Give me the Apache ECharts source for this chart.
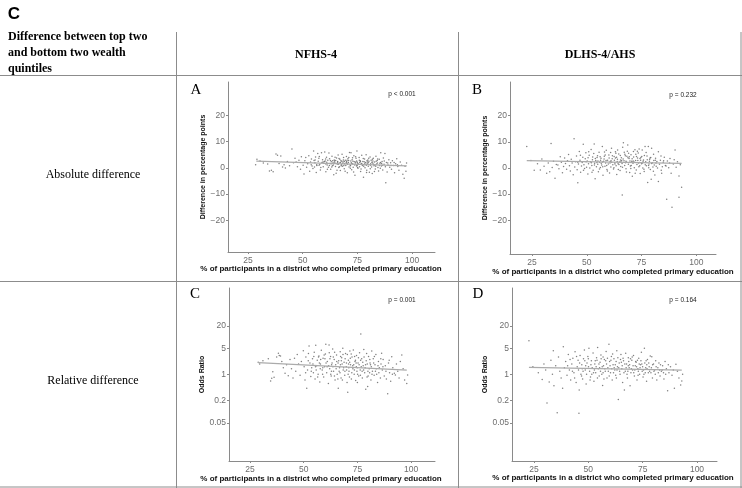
<!DOCTYPE html>
<html><head><meta charset="utf-8">
<script src="https://cdn.jsdelivr.net/npm/echarts@6/dist/echarts.min.js"></script>
<style>html,body{margin:0;padding:0;background:#fff}#c{width:742px;height:488px}</style>
</head><body><div id="c"></div>
<script>
// ---------- DATA ----------
const xTicks = [25, 50, 75, 100];
const absTicks = [-20, -10, 0, 10, 20];
const orTicks = [0.05, 0.2, 1, 5, 20];
const columnTitles = ["NFHS-4", "DLHS-4/AHS"];
const rowTitles = ["Absolute difference", "Relative difference"];
const panelLetters = ["A", "B", "C", "D"];
const pValues = ["p < 0.001", "p = 0.232", "p = 0.001", "p = 0.164"];

// Panel A: NFHS-4, absolute difference (percentage points)
const aPoints = [[28.5,1.2],[29.1,3.2],[30.5,2.6],[32,1.8],[34,1.4],[34.8,-1.2],[35.7,-0.9],[36.5,-1.5],[37.8,5.2],[38.5,4.8],[39.2,1.6],[40,4.5],[40.8,0.3],[41.5,1.2],[42.1,-0.1],[43,2.4],[44,0.8],[45.1,7.1],[45.8,1.9],[46.5,3.6],[47,2.2],[47.6,0.4],[48.3,2.9],[49,-0.6],[49.4,4.2],[50.2,1.0],[50.6,-2.4],[51,2.7],[51.4,3.9],[51.8,0.2],
[52.3,1.5],[52.8,4.6],[53.2,-1.3],[53.6,2.2],[54,3.3],[54.3,0.7],[54.7,-0.3],[55,6.4],[55.2,2.8],[55.6,1.9],[55.9,4.1],[56.2,-1.8],[56.5,0.9],[56.9,5.4],[57.1,2.5],[57.4,3.6],[57.8,1.3],[58.1,-0.8],[58.6,5.7],[58.8,2.0],[59.1,3.1],[59.4,0.4],[59.7,1.7],[60.1,6.0],[60.3,2.6],[60.6,-1.5],[60.9,4.0],[61.2,1.1],[61.5,2.9],[61.8,0.2],[62,5.6],[62.3,3.4],[62.5,1.6],[62.8,-0.6],[63.1,2.3],[63.4,4.4],[63.6,0.8],[63.9,1.9],[64.2,-2.6],[64.4,3.0],[64.7,2.1],[65,0.5],[65.3,-2.1],[65.5,3.7],[65.8,1.4],
[66,2.4],[66.2,4.9],[66.5,0.1],[66.7,1.8],[67,3.2],[67.2,-1.0],[67.5,2.7],[67.7,1.2],[68,5.1],[68.2,0.6],[68.5,2.2],[68.7,3.9],[69,-0.4],[69.2,1.5],[69.5,2.9],[69.7,0.9],[70,4.3],[70.2,1.7],[70.4,-1.9],[70.7,3.4],[70.9,2.0],[71.2,0.3],[71.4,5.8],[71.7,1.1],[72,2.6],[72.1,5.7],[72.4,-0.7],[72.6,3.1],[72.9,1.4],[73.1,0.2],[73.4,4.6],[73.6,2.3],[73.9,-2.8],[74.1,1.8],[74.4,3.6],[74.6,0.7],[74.8,6.4],[75,2.1],[75.3,-0.2],[75.5,1.3],[75.8,3.9],[76,0.4],[76.3,2.7],[76.5,-1.4],[76.8,1.6],[77,4.8],[77.3,0.9],[77.5,2.4],[77.8,-3.6],[78,1.2],[78.3,3.3],[78.5,0.0],[78.8,2.0],[79,5.0],[79.3,-0.9],[79.5,1.5],[79.8,3.0],[80,0.6],[80.3,2.5],[80.5,-1.7],[80.8,4.1],[81,1.0],[81.3,2.9],[81.5,0.3],[81.8,-2.2],[82,1.8],
[82.3,3.6],[82.6,0.8],[82.9,2.2],[83.2,-0.5],[83.5,4.4],[83.8,1.4],[84.1,2.8],[84.4,0.1],[84.7,-1.2],[85,3.2],[85.3,1.7],[85.7,5.7],[86,0.7],[86.3,2.4],[86.6,-0.8],[86.9,3.7],[87.2,1.3],[87.6,5.4],[87.8,0.4],[88,-5.7],[88.3,2.0],[88.6,-1.6],[89,1.1],[89.4,3.1],[89.8,0.2],[90.2,1.9],[90.6,-0.6],[91,2.7],[91.5,0.9],[92,-1.9],[92.5,1.5],[93,3.4],[93.5,0.5],[94,-0.9],[94.6,2.2],[95.2,1.0],[95.8,-2.5],[96.4,-4.0],[96.8,0.6],[97.2,-1.3],[97.5,1.8],
[61,2.1],[63,1.5],[64.5,2.6],[66.3,1.3],[67.3,2.0],[68.3,1.7],[69.1,2.4],[70.5,1.3],[71,2.8],[72.2,1.9],[73,2.5],[73.8,1.1],[74.3,2.2],[75.2,1.6],[76.1,2.0],[77.1,1.4],[78.1,2.3],[79.1,1.0],[80.1,1.9],[81.1,1.5],[82.1,2.6],[83.1,1.1],[84.2,1.8],[85.1,0.9],[86.1,1.6],[62.2,0.9],[64,1.1],[65.1,2.8],[66.8,0.4],[68.8,0.9],[70.1,2.4],[71.9,0.8],[74.9,0.9],[77.9,0.6],[79.6,2.2],[81.6,2.1],[83.6,2.5],[85.6,2.0],[57.5,1.0],[59.9,2.4],[55.4,0.3],[53.9,1.2],
[55.7,3.0],[56.4,1.2],[57.6,4.3],[58.3,0.1],[59.3,2.2],[60.5,3.3],[61.3,-0.6],[62.7,2.8],[63.3,0.3],[64.8,4.0],[65.7,-0.9],[66.6,3.5],[67.6,0.8],[68.6,3.0],[69.4,-1.3],[70.3,2.9],[71.1,3.9],[71.8,-0.2],[72.8,3.8],[73.3,-1.6],[74.2,4.2],[75.1,0.1],[75.9,2.9],[76.7,-0.5],[77.7,3.5],[78.4,1.7],[79.2,-1.8],[80.2,3.6],[80.9,-0.4],[81.9,3.2],[82.8,-1.4],[83.4,0.6],[84.3,3.3],[85.5,-0.2],[86.4,1.0],[87.3,2.6],[88.9,1.8],[90.4,0.9],[91.8,2.0],[93.3,1.2],[60.6,1.4],[67.9,2.5],[72.5,1.6],[76.4,2.4],[79.4,2.7],[82.4,1.3],[69.9,1.9],[74.7,2.6],[65.9,2.1],[63.7,2.7]];
const aTrend = [[28.8,2.55],[97.6,0.76]];

// Panel B: DLHS-4/AHS, absolute difference
const bPoints = [[22.6,8.2],[24.5,2.9],[26,-0.9],[27.5,1.6],[28.8,-0.8],[29.5,3.4],[30.5,0.7],[31.7,-2.0],[32.4,1.9],[33.1,-1.4],[33.7,9.4],[34.2,0.2],[34.8,2.6],[35.5,-3.9],[36.1,1.3],[36.8,1.1],[37.3,-0.3],[37.9,4.3],[38.4,2.2],[38.9,-1.8],[39.4,0.6],[39.9,3.8],[40.3,1.7],[40.8,-0.5],[41.2,2.8],[41.7,5.2],[42.1,0.9],[42.5,-1.1],[42.9,3.3],[43.3,1.9],[43.8,-2.6],[44.2,11.2],[44.5,0.4],[44.9,2.4],[45.3,4.6],[45.6,-0.7],[45.9,-5.6],[46.2,1.5],[46.6,6.3],[46.9,3.0],[47.2,-1.6],[47.6,0.8],[47.9,2.1],[48.2,4.1],[48.4,9.1],[48.7,1.2],[49,-0.2],[49.3,3.5],[49.6,5.8],[49.9,0.3],[50.2,2.7],[50.5,-2.3],[50.8,1.6],[51.1,4.9],[51.4,0.0],[51.7,2.4],[52,7.1],[52.3,1.0],[52.6,3.2],[52.9,-0.9],[53.2,5.5],[53.4,9.2],[53.6,1.8],[53.8,-4.1],[54.1,2.9],[54.4,0.5],[54.7,4.0],[55,1.4],[55.3,-1.4],[55.6,6.0],[55.9,2.2],[56.2,0.2],[56.5,3.7],[56.8,1.1],[57.1,8.2],[57.4,-2.8],[57.7,2.6],[58,4.5],[58.3,0.7],[58.6,1.9],[58.9,6.8],[59.2,-0.6],[59.5,3.0],[59.8,1.5],[60.1,5.0],[60.4,-1.9],[60.7,2.5],[61,0.4],[61.3,7.6],[61.6,3.5],[61.9,1.2],[62.2,-0.4],[62.5,4.4],[62.8,2.0],[63.1,6.2],[63.4,0.9],[63.7,-2.5],[64,3.3],[64.3,1.6],[64.6,5.4],[64.9,2.3],[65.2,-1.0],[65.5,0.6],[65.8,3.9],[66.2,-10.3],[66.4,7.9],[66.7,9.7],[67,2.8],[67.3,1.0],[67.6,4.7],[67.9,-0.3],[68.2,2.2],[68.5,6.4],[68.7,8.8],[69,1.4],[69.3,3.6],[69.6,-1.7],[69.9,0.8],[70.2,5.1],[70.5,2.6],[70.8,-3.2],[71.1,1.8],[71.4,4.2],[71.7,0.1],[72,7.0],[72.3,2.9],[72.6,-0.8],[72.9,1.3],[73.2,3.8],[73.5,5.7],[73.8,0.5],[74.1,2.1],[74.4,-2.1],[74.7,4.0],[75,1.6],[75.3,6.9],[75.6,0.0],[75.9,3.1],[76.2,-1.3],[76.6,8.2],[76.9,2.4],[77.2,0.9],[77.5,4.6],[77.8,-5.5],[78.1,8.2],[78.4,1.5],[78.7,3.3],[79,-0.6],[79.4,-4.3],[79.6,7.6],[79.9,2.0],[80.2,0.4],[80.5,5.3],[80.8,1.1],[81.1,-2.7],[81.4,3.7],[81.7,0.7],[82,2.5],[82.7,6.2],[82.7,-5.2],[83.2,1.4],[83.6,3.0],[84,-0.9],[84.2,-2.0],[84.5,0.5],[84.9,2.2],[85.4,4.1],[85.9,1.0],[86.5,-12],[86.8,2.7],[87.4,0.1],[88,3.6],[88.5,-2.0],[88.9,-15],[89.5,1.5],[90.3,6.9],[90.8,0.3],[91.4,2.4],[92.1,-11.2],[92.1,-3.1],[92.7,1.2],[93.3,-7.4],
[50.6,3.9],[52.1,2.0],[53.9,3.6],[55.1,2.7],[56.6,1.8],[57.9,3.4],[58.8,2.9],[60.2,3.8],[61.4,2.2],[62.6,3.0],[63.6,4.1],[64.7,1.3],[65.6,2.4],[66.6,3.4],[67.7,2.0],[68.8,3.9],[69.7,2.7],[70.7,3.5],[71.6,2.3],[72.7,4.4],[73.6,1.9],[74.6,3.0],[75.7,2.6],[76.7,1.2],[77.6,3.2],[78.6,2.6],[79.6,1.7],[80.6,2.9],[81.6,1.9],[54.6,2.1],[59.1,1.0],[63.9,2.5],[66.1,1.7],[68.3,4.5],[70.3,1.0],[72.4,5.3],[74.3,3.6],[76.3,4.8],[78.3,0.1],[60.9,5.9],[58.4,5.0],[56.1,4.3],[64.1,6.9],[67.1,6.0],[69.1,5.6],[71.3,6.3],[73.9,7.3],[62.9,1.5],[65.3,4.8],[57.3,0.5],
[45.9,2.2],[47.1,4.9],[48.5,-0.9],[49.7,2.4],[50.9,6.2],[52.4,-1.6],[53.5,1.1],[54.9,4.7],[55.8,-0.4],[57.2,2.3],[58.1,6.1],[59.4,-1.1],[60.6,1.9],[61.7,4.7],[62.4,0.1],[63.3,5.6],[64.4,-0.6],[65.4,3.1],[66.3,0.3],[67.4,5.3],[68.1,-1.5],[69.4,4.3],[70.1,-0.2],[71.2,2.7],[72.1,-2.0],[73.1,6.4],[74.2,0.9],[75.1,4.4],[76.1,-0.5],[77.1,5.9],[78.2,1.0],[79.2,4.0],[80.4,-1.2],[81.3,3.0],[82.3,0.0],[83.9,4.6],[85.1,2.8],[86.2,0.8],[87.8,1.9],[89.9,3.2],[56.3,3.0],[61.1,2.8],[65.9,2.9],[70.9,2.2],[75.4,1.9],[78.9,3.8],[52.7,4.2],[67.9,2.6],[73.3,2.9],[63.1,3.8]];
const bTrend = [[22.6,2.8],[93.3,1.8]];

// Panel C: NFHS-4, relative difference (odds ratio)
const cPoints = [[28.8,2.1],[29.5,1.9],[31,2.3],[33.5,2.6],[34.6,0.66],[35.1,0.78],[35.6,1.17],[36.2,0.83],[37.4,2.9],[38.2,3.66],[38.6,3.2],[39.2,3.1],[39.8,2.2],[40.5,1.5],[41.3,1.06],[42,1.8],[42.8,0.92],[43.6,2.5],[44.3,1.4],[45,0.8],[45.7,2.7],[46.3,1.2],[47,3.4],[47.6,1.9],[48.3,0.95],[48.9,2.2],[49.8,4.3],[50.2,1.6],[50.6,0.7],[51,2.9],[51.4,0.42],[51.8,1.3],[52.2,3.6],[52.5,5.7],[52.9,2.0],[53.3,0.88],[53.7,1.5],[54.1,2.6],[54.5,1.1],[54.9,3.9],[55.3,0.75],[55.6,6.0],[56,1.7],[56.3,2.4],[56.7,1.0],[57.1,3.1],[57.5,0.62],[57.8,1.9],[58.2,4.4],[58.6,1.3],[59,2.7],[59.3,0.85],[59.7,1.6],[60.1,3.5],[60.3,6.4],[60.7,1.1],[61,2.2],[61.5,0.57],[61.8,6.1],[62.1,1.4],[62.5,3.0],[62.8,0.9],[63.2,2.0],[63.5,4.8],[63.9,1.2],[64.2,2.5],[64.6,0.7],[64.9,1.8],[65.3,3.3],[65.6,1.0],[66.1,0.42],[66.3,2.3],[66.7,1.5],[67,4.0],[67.4,0.8],[67.7,2.8],[68.2,5.0],[68.4,1.3],[68.8,2.1],[69.1,0.95],[69.5,3.6],[69.8,1.6],[70.2,0.6],[70.5,0.33],[70.8,2.4],[71.1,1.2],[71.5,4.2],[71.8,1.8],[72.2,0.75],[72.5,2.9],[72.9,1.4],[73.1,4.5],[73.5,1.0],[73.9,2.2],[74.2,0.68],[74.6,3.2],[74.9,1.5],[75.3,2.0],[75.6,0.9],[76,3.8],[76.3,1.3],[76.6,12],[77,2.6],[77.3,0.8],[77.7,1.7],[78,4.6],[78.4,1.1],[78.9,0.4],[79.1,2.3],[79.5,0.85],[79.8,0.47],[80.2,3.0],[80.5,1.4],[80.9,2.0],[81.3,0.7],[81.7,4.2],[82,1.2],[82.4,2.6],[82.8,0.95],[83.2,1.8],[83.6,3.4],[84,1.0],[84.4,0.6],[84.8,2.2],[85.2,1.5],[85.7,0.8],[86.3,3.66],[86.6,1.3],[87,2.5],[87.5,0.9],[88,1.7],[88.5,0.75],[89.1,0.3],[89.5,2.0],[90,1.1],[90.5,0.65],[91,2.96],[91.5,1.5],[92.2,1.06],[92.7,0.96],[93.2,1.9],[93.8,1.2],[94.4,0.8],[95,2.2],[95.7,3.3],[96.3,1.4],[97,0.7],[98,0.57],[98.4,0.96],
[55.8,1.3],[57.3,2.0],[58.9,1.5],[60.4,2.0],[61.6,1.7],[62.9,1.2],[63.8,2.9],[65.1,1.4],[66,2.0],[66.9,1.1],[67.9,1.9],[68.6,1.5],[69.3,2.6],[70,1.3],[70.9,1.9],[71.7,2.7],[72.4,1.1],[73.3,1.8],[74.1,2.4],[74.8,1.2],[75.5,2.8],[76.4,0.95],[77.5,2.1],[78.6,1.5],[79.6,1.9],[80.7,1.1],[81.5,1.6],[82.6,2.0],[83.8,1.4],[85,1.1],[86,1.9],[64.4,3.9],[67.2,3.0],[70.3,3.4],[73.7,3.0],[76.8,1.6],[79.3,3.6],[62.2,2.6],[59.5,3.3],[56.9,2.9],[54.3,1.9],[71.3,0.85],[68,0.7],[65.9,0.75],[75,0.6],[80,0.9],
[50.9,1.1],[52.1,2.3],[53.5,1.2],[54.7,3.0],[55.5,1.6],[56.5,0.85],[57.9,2.5],[58.8,1.0],[59.9,2.6],[60.9,1.6],[61.9,3.8],[62.6,1.0],[63.6,1.6],[64.3,0.9],[65.4,2.2],[66.5,1.2],[67.5,2.3],[68.3,3.4],[69.2,1.2],[69.9,2.0],[70.7,1.0],[71.4,2.1],[72.1,3.5],[72.8,1.7],[73.6,1.3],[74.4,2.0],[75.1,1.0],[75.8,1.8],[76.5,2.4],[77.2,1.2],[78.1,2.9],[78.8,1.8],[79.9,1.2],[80.8,2.5],[81.8,1.0],[82.9,3.0],[83.4,1.2],[84.6,1.7],[85.9,2.6],[86.9,1.6],[88.3,1.2],[89.8,2.4],[91.3,1.0],[57.7,1.4],[63,1.8],[67.1,1.8],[71,1.5],[74.5,1.6],[77.9,1.3],[81.1,1.8]];
const cTrend = [[28.8,2.05],[98,1.3]];

// Panel D: DLHS-4/AHS, relative difference (odds ratio)
const dPoints = [[22.7,7.9],[24.5,1.6],[27,1.1],[28.8,0.73],[29.6,1.9],[30.4,1.3],[31,0.17],[32,0.62],[32.8,2.4],[33.5,1.0],[33.9,4.3],[34.2,0.49],[35,1.7],[35.7,0.093],[36.3,2.9],[36.9,1.2],[37.5,0.8],[38.2,0.42],[38.5,5.5],[39,1.5],[39.6,2.2],[40.2,0.95],[40.8,3.4],[41.3,1.3],[41.9,0.7],[42.4,1.9],[42.9,2.7],[43.4,1.1],[43.9,4.0],[44.4,0.6],[44.9,1.6],[45.3,2.4],[45.7,0.09],[45.8,0.38],[46.2,3.2],[46.6,1.0],[47,1.8],[47.4,0.75],[47.8,2.6],[48.2,4.5],[48.6,1.3],[49,0.55],[49.4,2.0],[49.8,3.0],[50.3,5.0],[50.6,1.2],[51,0.85],[51.4,2.3],[51.8,1.5],[52.2,3.7],[52.6,0.65],[53,1.9],[53.4,1.1],[53.8,2.8],[54.3,5.2],[54.6,1.4],[55,0.9],[55.4,2.1],[55.8,3.3],[56.2,1.0],[56.6,0.5],[57,1.7],[57.4,2.5],[57.8,1.2],[58.2,4.1],[58.6,0.8],[59,1.5],[59.5,6.4],[59.8,2.2],[60.2,1.1],[60.6,3.0],[61,0.7],[61.4,1.8],[61.8,2.6],[62.2,1.3],[62.6,0.95],[63.1,4.3],[63.4,1.6],[63.8,0.21],[64.2,2.0],[64.6,1.0],[65,3.4],[65.4,1.4],[65.8,0.6],[66.2,2.3],[66.6,0.38],[67,1.2],[67.2,3.66],[67.6,1.9],[68,0.8],[68.4,2.8],[68.8,1.5],[69.2,0.49],[69.6,1.1],[70,2.4],[70.4,1.3],[70.8,3.2],[71.2,0.9],[71.6,1.7],[72,2.1],[72.4,0.7],[72.8,1.4],[73.2,2.7],[73.6,1.0],[74,1.8],[74.4,3.9],[74.8,1.2],[75.2,0.85],[75.8,5.0],[76,2.0],[76.4,1.5],[76.8,0.65],[77.2,2.5],[77.6,1.1],[78,1.6],[78.5,3.1],[79.2,2.96],[79.5,0.8],[80,1.9],[80.5,1.3],[81,2.3],[81.5,0.7],[82,1.5],[82.5,2.0],[83,0.9],[83.6,1.2],[84.2,1.7],[84.8,0.75],[85.3,2.2],[85.9,1.4],[86.5,0.36],[87.1,1.1],[87.8,1.6],[88.5,0.95],[89.1,1.3],[89.6,0.42],[90.3,1.85],[91,1.2],[91.7,0.8],[92.5,0.52],[93,0.66],[93.4,1.0],
[45.5,1.3],[47.2,1.4],[48.8,1.7],[50.1,1.6],[51.6,1.0],[52.8,1.3],[53.6,1.6],[54.9,1.9],[55.6,1.2],[56.4,1.6],[57.6,1.4],[58.4,1.9],[59.2,1.2],[60,1.7],[60.8,1.4],[61.6,1.1],[62.4,1.8],[63.2,1.3],[64,1.5],[64.8,2.5],[65.6,1.7],[66.4,1.1],[67.4,1.5],[68.2,1.2],[69,1.8],[69.8,1.4],[70.6,1.7],[71.4,1.3],[72.2,1.6],[73,1.2],[73.8,1.5],[74.6,1.9],[75.4,1.3],[76.2,1.1],[77,1.4],[78.2,1.2],[79,1.5],[80.8,1.0],[82.8,1.3],[84.6,1.1],[56.8,2.9],[61.2,3.5],[66,2.7],[70.2,2.9],[54,2.4],[58,2.3],[62.8,2.2],[68.6,2.2],[72.6,2.4],[76.6,2.3],
[40.5,1.7],[41.6,2.5],[42.7,1.2],[43.7,0.8],[44.6,3.0],[46,2.0],[46.9,0.9],[47.6,1.2],[48.4,2.3],[49.2,1.0],[50,2.6],[50.8,0.7],[51.2,1.8],[52.4,1.1],[53.2,2.3],[54.2,0.8],[55.2,1.5],[55.9,2.6],[56.8,1.1],[57.2,0.75],[58.8,2.7],[59.6,0.9],[60.4,2.4],[61.9,1.5],[62.9,0.8],[63.6,2.8],[64.4,1.2],[65.2,2.1],[66.8,1.9],[67.8,1.0],[68.4,1.7],[69.4,2.6],[70.9,1.1],[71.8,2.2],[72.9,0.95],[73.4,1.9],[74.2,2.3],[75,1.6],[75.6,1.0],[76.9,1.8],[77.8,2.0],[78.8,1.1],[79.6,1.8],[80.2,1.2],[81.2,1.6],[82.2,1.1],[83.2,1.8],[84,1.3],[85.6,1.0],[86.8,1.8]];
const dTrend = [[22.7,1.54],[93,1.3]];

// ---------- CHART ----------
const chart = echarts.init(document.getElementById('c'), null, {renderer: 'canvas'});
const AXC = '#8a8a8a', LBL = '#6e6e6e', FONT = 'Liberation Sans, Arial, sans-serif';
const SERIF = 'Liberation Serif, Times New Roman, serif';

const grids = [
  {left: 228, top: 82, width: 207, height: 170},
  {left: 510, top: 82, width: 206, height: 172},
  {left: 229, top: 288, width: 206, height: 173},
  {left: 512, top: 288, width: 205, height: 173}
];
const xr = [[15.86, 110.5], [14.95, 109], [15.2, 111.15], [14.9, 109.2]];
const yr = [[-32, 32.6], [-32.9, 32.9], [0.00474, 206], [0.00474, 206]];
const yNames = ["Difference in percentage points", "Difference in percentage points", "Odds Ratio", "Odds Ratio"];

const fmtNum = v => v < 0 ? '\u2212' + Math.abs(v) : String(v);

const xAxis = grids.map((g, i) => ({
  type: 'value', gridIndex: i, min: xr[i][0], max: xr[i][1],
  axisLine: {show: true, onZero: false, lineStyle: {color: AXC, width: 1}},
  axisTick: {show: true, length: 2, lineStyle: {color: AXC}, customValues: xTicks},
  axisLabel: {customValues: xTicks, color: LBL, fontSize: 8.5, fontFamily: FONT, margin: 4},
  splitLine: {show: false}
}));
const yAxis = grids.map((g, i) => {
  const isLog = i >= 2;
  const ticks = isLog ? orTicks : absTicks;
  return {
    type: isLog ? 'log' : 'value', logBase: 10, gridIndex: i, min: yr[i][0], max: yr[i][1],
    name: yNames[i], nameLocation: 'middle', nameGap: 21,
    nameTextStyle: {fontSize: 7, fontWeight: 'bold', color: '#111', fontFamily: FONT},
    axisLine: {show: true, onZero: false, lineStyle: {color: AXC, width: 1}},
    axisTick: {show: true, length: 2, lineStyle: {color: AXC}, customValues: ticks},
    axisLabel: {customValues: ticks, color: LBL, fontSize: 8.5, fontFamily: FONT, margin: 3,
      formatter: v => fmtNum(+(+v).toPrecision(6))},
    splitLine: {show: false}
  };
});

const pts = [aPoints, bPoints, cPoints, dPoints];
const trends = [aTrend, bTrend, cTrend, dTrend];
const series = [];
pts.forEach((p, i) => {
  series.push({type: 'scatter', xAxisIndex: i, yAxisIndex: i, data: p, symbolSize: 1.5,
    itemStyle: {color: '#555555', opacity: 0.75}, silent: true, z: 2});
});
trends.forEach((t, i) => {
  series.push({type: 'line', xAxisIndex: i, yAxisIndex: i, data: t, showSymbol: false,
    lineStyle: {color: '#ababab', width: 1.3}, silent: true, z: 3});
});

const ln = (x1, y1, x2, y2) => ({type: 'line', silent: true, z: 10,
  shape: {x1, y1, x2, y2}, style: {stroke: '#8c8c8c', lineWidth: 1}});
const txt = (x, y, text, font, align, color) => ({type: 'text', silent: true, z: 10, x, y,
  style: {text, font, textAlign: align || 'center', textVerticalAlign: 'middle', fill: color || '#000'}});

const letterPos = [[196, 90], [477, 90], [195, 294], [478, 294]];
const pPos = [[402, 94], [683, 95], [402, 300], [683, 300]];
const xNamePos = [[321, 269], [613, 272], [321, 479], [613, 478]];

const graphic = [
  ln(176.5, 32, 176.5, 488), ln(458.5, 32, 458.5, 488), ln(741, 32, 741, 488),
  ln(0, 75.5, 742, 75.5), ln(0, 281.5, 742, 281.5), ln(0, 487, 742, 487),
  txt(14, 14, 'C', 'bold 17px ' + FONT),
  {type: 'text', silent: true, z: 10, x: 8, y: 29,
    style: {text: 'Difference between top two\nand bottom two wealth\nquintiles', font: 'bold 12px ' + SERIF,
      lineHeight: 16, textAlign: 'left', textVerticalAlign: 'top', fill: '#000'}},
  txt(316, 55, columnTitles[0], 'bold 12px ' + SERIF),
  txt(600, 55, columnTitles[1], 'bold 12px ' + SERIF),
  txt(93, 175, rowTitles[0], '12px ' + SERIF),
  txt(93, 381, rowTitles[1], '12px ' + SERIF)
];
panelLetters.forEach((l, i) => graphic.push(txt(letterPos[i][0], letterPos[i][1], l, '15px ' + SERIF)));
pValues.forEach((p, i) => graphic.push(txt(pPos[i][0], pPos[i][1], p, '6.5px ' + FONT, 'center', '#222')));
xNamePos.forEach((p, i) => graphic.push(txt(p[0], p[1],
  '% of participants in a district who completed primary education', 'bold 8px ' + FONT, 'center', '#111')));

chart.setOption({animation: false, backgroundColor: '#fff', grid: grids, xAxis, yAxis, series, graphic});
</script></body></html>
